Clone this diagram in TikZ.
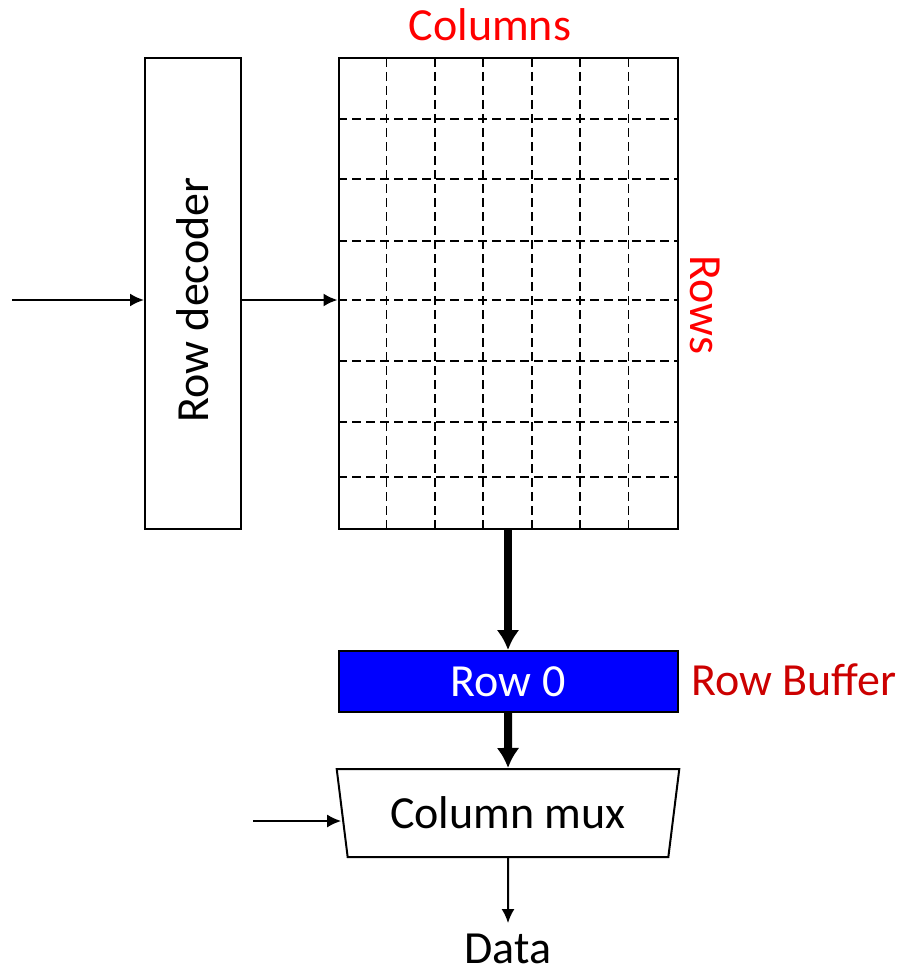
\documentclass[tikz,border=0pt]{standalone}
\usepackage{fontspec}
\setmainfont{Carlito}
\usetikzlibrary{positioning,arrows.meta,shapes.geometric}
\definecolor{bufblue}{RGB}{0,0,255}
\definecolor{lblred}{RGB}{255,0,0}
\definecolor{bufred}{RGB}{204,0,0}
\tikzset{
  blockbox/.style={draw,line width=1pt,inner sep=0pt},
  gridline/.style={draw,line width=0.85pt,dash pattern=on 4.5pt off 2.5pt},
  thinarrow/.style={-{Latex[length=7pt,width=6.5pt]},line width=1pt},
  thickarrow/.style={-{Latex[length=10pt,width=11.5pt]},line width=4pt},
  bigfont/.style={font=\fontsize{23}{27}\selectfont},
}
\newcommand{\coldash}[1]{\draw[gridline] ({338+48.43*#1},58) -- ++(0,471);}
\newcommand{\rowdash}[1]{\draw[gridline] (338,#1) -- (677,#1);}
\begin{document}
\begin{tikzpicture}[x=0.5pt,y=-0.5pt]
    \useasboundingbox (0,0) rectangle (906,974);
    % blocks
    \node[blockbox,minimum width=48pt,minimum height=235.5pt] (decoder) at (193,293.5) {};
    \node[bigfont,rotate=90] (declbl) at (193,300) {Row decoder};
    \node[blockbox,minimum width=169.5pt,minimum height=235.5pt] (array) at (508,293.5) {};
    \foreach \c in {1,...,6}{\coldash{\c}}
    \foreach \r in {119,179,241,300,361,422,477}{\rowdash{\r}}
    \node[blockbox,fill=bufblue,text=white,bigfont,minimum width=169.5pt,minimum height=30.5pt] (buffer) at (508,681.5) {Row 0};
    \node[blockbox,trapezium,shape border rotate=180,trapezium stretches=true,
      trapezium angle=76,bigfont,minimum width=171.5pt,minimum height=44pt] (mux) at (508,813) {Column mux};
    \node[bigfont,inner sep=0pt,anchor=base] (data) at (508,963) {Data};
    % labels
    \node[bigfont,text=lblred] (collbl) at (490,25) {Columns};
    \node[bigfont,text=lblred,rotate=-90] (rowlbl) at (705,305) {Rows};
    \node[bigfont,text=bufred] (buflbl) at (794,680) {Row Buffer};
    % arrows
    \coordinate (decin) at (12,300);
    \coordinate (muxin) at (253,821);
    \draw[thinarrow] (decin) -- (decin -| decoder.west);
    \draw[thinarrow] (decin -| decoder.east) -- (decin -| array.west);
    \draw[thickarrow] (array.south) -- (buffer.north);
    \draw[thickarrow] (buffer.south) -- (mux.north);
    \draw[thinarrow] (muxin) -- (muxin -| mux.west);
    \draw[thinarrow] (mux.south) -- ([yshift=5pt]data.north);
  \end{tikzpicture}
\end{document}
